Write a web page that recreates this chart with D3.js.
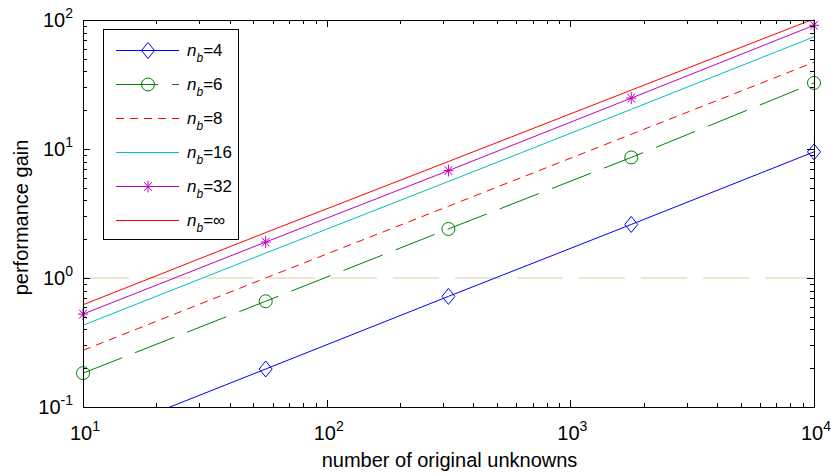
<!DOCTYPE html>
<html>
<head>
<meta charset="utf-8">
<script src="https://cdn.jsdelivr.net/npm/d3@7"></script>
<style>
  body { margin: 0; background: #fff; }
  text { font-family: "Liberation Sans", Arial, sans-serif; fill: #000; }
</style>
</head>
<body>
<div class="chart"></div>
<script>
// number of original unknowns (x) and performance gain for each n_b (y)
const unknowns = [10, 56.2, 316, 1778, 10000];
const gainNb4 = [0.054, 0.197, 0.72, 2.6, 9.5];
const gainNb6 = [0.183, 0.66, 2.4, 8.6, 32.5];
const gainNb8 = [0.275, 1.0, 3.6, 13.0, 47];
const gainNb16 = [0.43, 1.56, 5.6, 20.3, 74];
const gainNb32 = [0.525, 1.9, 6.8, 24.8, 91];
const gainNbInf = [0.62, 2.25, 8.0, 28.6, 102];
const nbLabels = ["4", "6", "8", "16", "32", "\u221e"];
const xTickExps = [1, 2, 3, 4];
const yTickExps = [-1, 0, 1, 2];
const referenceGain = 1;

var margin = {top: 20, right: 17, bottom: 67, left: 83},
    width = 831 - margin.left - margin.right,
    height = 474 - margin.top - margin.bottom;

const series = [
  {values: gainNb4,  color: "#0000ff", dash: null,    marker: "diamond"},
  {values: gainNb6,  color: "#008000", dash: "42,14", marker: "circle"},
  {values: gainNb8,  color: "#ff0000", dash: "8,6",   marker: null},
  {values: gainNb16, color: "#00bfbf", dash: null,    marker: null},
  {values: gainNb32, color: "#bf00bf", dash: null,    marker: "star"},
  {values: gainNbInf, color: "#ff0000", dash: null,   marker: null}
];

const svg = d3.select(".chart").append("svg")
    .attr("width", 831)
    .attr("height", 474);

const g = svg.append("g")
    .attr("transform", `translate(${margin.left}, ${margin.top})`);

var x = d3.scaleLog().domain([10, 1e4]).range([0, width]);
var y = d3.scaleLog().domain([0.1, 100]).range([height, 0]);

g.append("clipPath").attr("id", "plot-clip")
  .append("rect").attr("width", width).attr("height", height);

function markerPath(type) {
  if (type === "diamond") return "M0,-8L6.5,0L0,8L-6.5,0Z";
  if (type === "star") return "M-5,0H5M0,-6V6M-3.8,-4.4L3.8,4.4M-3.8,4.4L3.8,-4.4";
  return null;
}

function drawMarker(sel, type, color) {
  if (type === "circle") {
    sel.append("circle").attr("r", 6.5)
      .attr("fill", "none").attr("stroke", color).attr("stroke-width", 1);
  } else {
    sel.append("path").attr("d", markerPath(type))
      .attr("fill", "none").attr("stroke", color).attr("stroke-width", 1);
  }
}

// reference line at gain = 1
g.append("line")
  .attr("x1", 0).attr("x2", width)
  .attr("y1", y(referenceGain)).attr("y2", y(referenceGain))
  .attr("stroke", "#d2d29b")
  .attr("stroke-dasharray", "46,16");

const line = d3.line()
  .x((d, i) => x(unknowns[i]))
  .y(d => y(d));

const lines = g.append("g").attr("clip-path", "url(#plot-clip)");
series.forEach(s => {
  lines.append("path")
    .attr("d", line(s.values))
    .attr("fill", "none")
    .attr("stroke", s.color)
    .attr("stroke-width", 1)
    .attr("stroke-dasharray", s.dash);
});

series.filter(s => s.marker).forEach(s => {
  s.values.forEach((v, i) => {
    if (v < 0.1 || v > 100) return;
    let m = g.append("g").attr("transform", `translate(${x(unknowns[i])}, ${y(v)})`);
    drawMarker(m, s.marker, s.color);
  });
});

// ticks, inward on all four sides
const ticksG = g.append("g").attr("stroke", "#000").attr("stroke-width", 1);
function logTicks(exps) {
  let out = [];
  for (let e = exps[0]; e <= exps[exps.length - 1]; e++) {
    for (let k = 1; k <= 9; k++) {
      let v = k * Math.pow(10, e);
      if (e === exps[exps.length - 1] && k > 1) break;
      out.push({v: v, major: k === 1});
    }
  }
  return out;
}
logTicks(xTickExps).forEach(t => {
  let px = Math.round(x(t.v)) + 0.5, len = t.major ? 7 : 4;
  ticksG.append("line").attr("x1", px).attr("x2", px).attr("y1", height).attr("y2", height - len);
  ticksG.append("line").attr("x1", px).attr("x2", px).attr("y1", 0).attr("y2", len);
});
logTicks(yTickExps).forEach(t => {
  let py = Math.round(y(t.v)) + 0.5, len = t.major ? 7 : 4;
  ticksG.append("line").attr("x1", 0).attr("x2", len).attr("y1", py).attr("y2", py);
  ticksG.append("line").attr("x1", width).attr("x2", width - len).attr("y1", py).attr("y2", py);
});

g.append("rect")
  .attr("x", 0.5).attr("y", 0.5)
  .attr("width", width).attr("height", height)
  .attr("fill", "none").attr("stroke", "#000").attr("stroke-width", 1);

// tick labels 10^n
xTickExps.forEach(e => {
  let t = g.append("text")
    .attr("x", x(Math.pow(10, e)) + 2)
    .attr("y", height + 33)
    .attr("text-anchor", "middle")
    .attr("font-size", "20px");
  t.append("tspan").text("10");
  t.append("tspan").attr("dy", -9).attr("font-size", "14px").text(e);
});
yTickExps.forEach(e => {
  let t = g.append("text")
    .attr("x", -10)
    .attr("y", y(Math.pow(10, e)) + 7)
    .attr("text-anchor", "end")
    .attr("font-size", "20px");
  t.append("tspan").text("10");
  t.append("tspan").attr("dy", -9).attr("font-size", "14px").text(e);
});

// axis titles
g.append("text")
  .attr("x", width / 2 + 1).attr("y", height + 60)
  .attr("text-anchor", "middle").attr("font-size", "20px")
  .text("number of original unknowns");
g.append("text")
  .attr("transform", `translate(${-55}, ${height / 2 + 4}) rotate(-90)`)
  .attr("text-anchor", "middle").attr("font-size", "20px")
  .text("performance gain");

// legend
const legend = g.append("g").attr("transform", "translate(20, 9)");
legend.append("rect")
  .attr("x", 0.5).attr("y", 0.5).attr("width", 135).attr("height", 210)
  .attr("fill", "#fff").attr("stroke", "#000").attr("stroke-width", 1);
series.forEach((s, i) => {
  let row = legend.append("g").attr("transform", `translate(0, ${21.5 + i * 34})`);
  row.append("line")
    .attr("x1", 13).attr("x2", 76)
    .attr("stroke", s.color).attr("stroke-width", 1)
    .attr("stroke-dasharray", s.dash ? (s.dash === "8,6" ? "8,6" : "42,14") : null);
  if (s.marker) {
    let m = row.append("g").attr("transform", "translate(45, 0)");
    drawMarker(m, s.marker, s.color);
  }
  let t = row.append("text").attr("x", 84).attr("y", 5).attr("font-size", "17px");
  t.append("tspan").attr("font-style", "italic").text("n");
  t.append("tspan").attr("font-style", "italic").attr("font-size", "12px").attr("dy", 6).text("b");
  t.append("tspan").attr("dy", -6).text("=" + nbLabels[i]);
});
</script>
</body>
</html>
